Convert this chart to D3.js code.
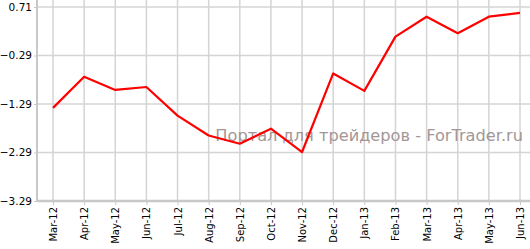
<!DOCTYPE html>
<html>
<head>
<meta charset="utf-8">
<script src="https://cdn.jsdelivr.net/npm/d3@7"></script>
<style>
  body { margin: 0; background: #fff; }
  text { font-family: "DejaVu Sans", Verdana, sans-serif; }
</style>
</head>
<body>
<div id="chart"></div>
<script>
// Chart data
const months = ["Mar-12", "Apr-12", "May-12", "Jun-12", "Jul-12", "Aug-12", "Sep-12", "Oct-12",
  "Nov-12", "Dec-12", "Jan-13", "Feb-13", "Mar-13", "Apr-13", "May-13", "Jun-13"];
const values = [-1.37, -0.73, -1.00, -0.94, -1.53, -1.94, -2.11, -1.80,
  -2.28, -0.66, -1.02, 0.10, 0.51, 0.17, 0.51, 0.59];
const yTicks = [0.71, -0.29, -1.29, -2.29, -3.29];

const width = 530, height = 249;
const margin = { top: 7, right: 0, bottom: 47, left: 37 };

const svg = d3.select("#chart")
  .append("svg")
    .attr("width", width)
    .attr("height", height);

// Scales
let x = d3.scalePoint().domain(months).range([53, 520]);
let y = d3.scaleLinear().domain([-3.29, 0.71]).range([height - margin.bottom - 1, margin.top]);

// Horizontal grid
svg.append("g")
  .selectAll("line")
  .data(yTicks)
  .join("line")
    .attr("x1", margin.left)
    .attr("x2", width)
    .attr("y1", d => y(d))
    .attr("y2", d => y(d))
    .attr("stroke", "#d4d4d4")
    .attr("stroke-width", 1.5);

// Vertical grid
svg.append("g")
  .selectAll("line")
  .data(months)
  .join("line")
    .attr("x1", d => x(d))
    .attr("x2", d => x(d))
    .attr("y1", 0)
    .attr("y2", y(-3.29))
    .attr("stroke", "#d4d4d4")
    .attr("stroke-width", 1.5);

// Y-Axis
const yAxis = svg.append("g")
  .attr("transform", "translate(" + margin.left + ",0)")
  .call(d3.axisLeft(y).tickValues(yTicks).tickFormat(d3.format(".2f")).tickSize(3).tickSizeOuter(0));
yAxis.select(".domain").attr("stroke", "#c8c8c8").attr("stroke-width", 2).attr("d", "M0,0V" + y(-3.29));
yAxis.selectAll(".tick line").attr("stroke", "#c8c8c8");
yAxis.selectAll("text").attr("fill", "#000").style("font-size", "10.5px").attr("x", -5);

// X-Axis
const xAxis = svg.append("g")
  .attr("transform", "translate(0," + y(-3.29) + ")")
  .call(d3.axisBottom(x).tickSize(4).tickSizeOuter(0));
xAxis.select(".domain").attr("stroke", "#c8c8c8").attr("stroke-width", 2.5).attr("d", "M" + margin.left + ",0H" + width);
xAxis.selectAll(".tick line").attr("stroke", "#c8c8c8");
xAxis.selectAll("text")
  .attr("fill", "#000")
  .style("font-size", "10px")
  .attr("transform", "rotate(-90)")
  .attr("x", -6)
  .attr("y", 0)
  .attr("dy", "0.35em")
  .style("text-anchor", "end");

// Watermark
svg.append("text")
  .attr("x", 523)
  .attr("y", 141)
  .style("text-anchor", "end")
  .style("font-size", "16.2px")
  .attr("fill", "#a39696")
  .text("Портал для трейдеров - ForTrader.ru");

// Line
let valueline = d3.line()
  .x((d, i) => x(months[i]))
  .y(d => y(d));

svg.append("path")
  .datum(values)
  .attr("fill", "none")
  .attr("stroke", "#ff0000")
  .attr("stroke-width", 2.2)
  .attr("stroke-linejoin", "round")
  .attr("d", valueline);
</script>
</body>
</html>
